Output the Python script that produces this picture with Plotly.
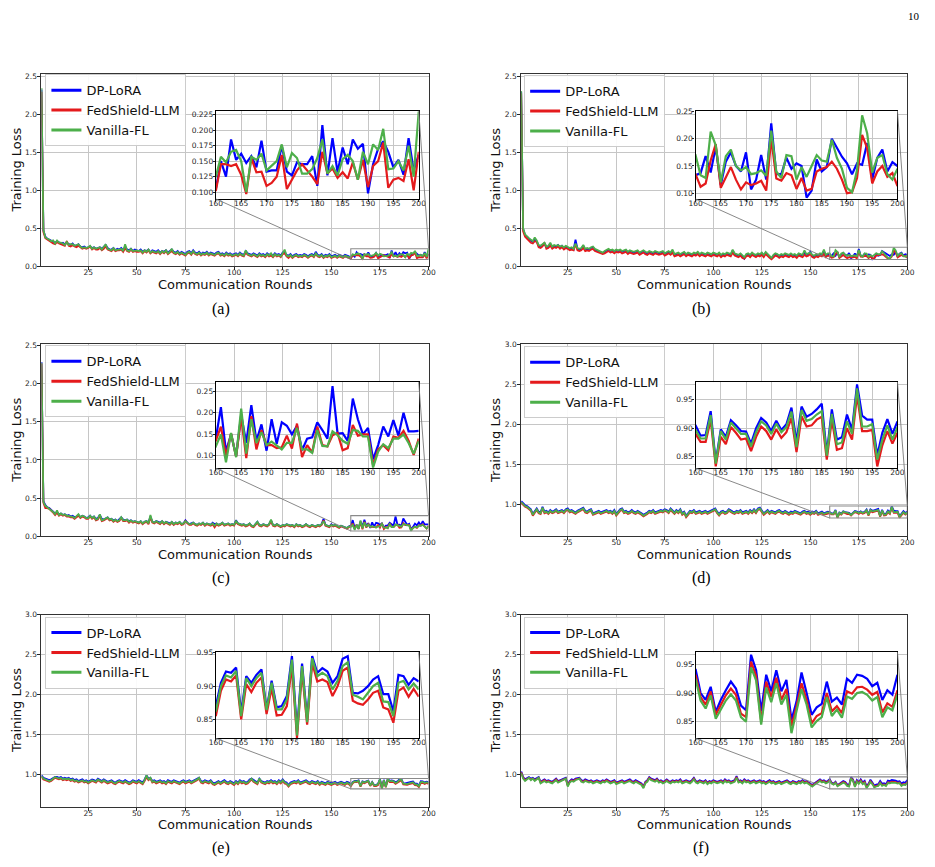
import plotly.graph_objects as go

W, H = 935, 867

SERIES = ["DP-LoRA", "FedShield-LLM", "Vanilla-FL"]
COLORS = ["#0000ff", "#e41a1c", "#4daf4a"]
CAPTIONS = ["(a)", "(b)", "(c)", "(d)", "(e)", "(f)"]
X_TICKS_MAIN = [25, 50, 75, 100, 125, 150, 175, 200]
X_TICKS_INSET = [160, 165, 170, 175, 180, 185, 190, 195, 200]
Y_TICKS_LOW = [0.0, 0.5, 1.0, 1.5, 2.0, 2.5]
Y_TICKS_HIGH = [1.0, 1.5, 2.0, 2.5, 3.0]

# ---------------- panel (a) ----------------
A_DP_EARLY = [2.33,0.47,0.39,0.36,0.35,0.34,0.33,0.31,0.33,0.32,
0.30,0.31,0.29,0.31,0.29,0.28,0.30,0.27,0.27,0.29,
0.26,0.25,0.26,0.24,0.25,0.26,0.24,0.25,0.23,0.24,
0.25,0.23,0.25,0.28,0.24,0.22,0.22,0.24,0.21,0.23,
0.22,0.24,0.21,0.26,0.22,0.21,0.23,0.20,0.22,0.21,
0.20,0.22,0.19,0.21,0.20,0.22,0.18,0.21,0.20,0.19,
0.21,0.18,0.20,0.19,0.21,0.18,0.20,0.22,0.19,0.18,
0.20,0.17,0.19,0.18,0.16,0.19,0.20,0.17,0.21,0.18,
0.17,0.19,0.16,0.18,0.17,0.19,0.16,0.18,0.17,0.16,
0.18,0.19,0.16,0.17,0.15,0.18,0.16,0.17,0.15,0.16,
0.17,0.15,0.18,0.16,0.15,0.20,0.17,0.16,0.15,0.17,
0.16,0.14,0.17,0.15,0.16,0.14,0.17,0.15,0.16,0.14,
0.17,0.15,0.16,0.14,0.18,0.19,0.15,0.14,0.16,0.13,
0.15,0.16,0.14,0.15,0.14,0.16,0.15,0.13,0.15,0.16,
0.14,0.19,0.15,0.14,0.16,0.13,0.15,0.14,0.16,0.13,
0.14,0.15,0.13,0.15,0.14,0.13,0.15,0.14,0.13]
A_FS_EARLY = [2.30,0.45,0.37,0.35,0.33,0.32,0.30,0.29,0.32,0.30,
0.29,0.28,0.27,0.33,0.27,0.26,0.28,0.26,0.25,0.27,
0.25,0.23,0.24,0.23,0.24,0.26,0.22,0.24,0.22,0.22,
0.24,0.21,0.23,0.26,0.22,0.21,0.20,0.23,0.20,0.21,
0.21,0.22,0.19,0.24,0.20,0.19,0.22,0.19,0.20,0.19,
0.19,0.20,0.17,0.20,0.18,0.21,0.17,0.19,0.18,0.17,
0.19,0.16,0.19,0.17,0.20,0.16,0.18,0.20,0.17,0.16,
0.18,0.15,0.17,0.16,0.14,0.17,0.18,0.15,0.19,0.16,
0.15,0.17,0.14,0.16,0.15,0.17,0.14,0.16,0.15,0.14,
0.16,0.17,0.14,0.15,0.13,0.16,0.14,0.15,0.13,0.14,
0.15,0.13,0.16,0.14,0.13,0.18,0.15,0.14,0.13,0.15,
0.14,0.12,0.15,0.13,0.14,0.12,0.15,0.13,0.14,0.12,
0.15,0.13,0.14,0.12,0.16,0.17,0.13,0.11,0.14,0.11,
0.13,0.14,0.12,0.13,0.12,0.14,0.13,0.11,0.13,0.14,
0.12,0.16,0.13,0.12,0.14,0.11,0.13,0.12,0.14,0.11,
0.12,0.13,0.11,0.13,0.12,0.11,0.13,0.12,0.11]
A_VF_EARLY = [2.35,0.48,0.38,0.37,0.35,0.33,0.34,0.30,0.34,0.31,
0.31,0.30,0.28,0.32,0.28,0.29,0.29,0.27,0.28,0.29,
0.26,0.24,0.25,0.24,0.25,0.27,0.23,0.25,0.23,0.24,
0.25,0.22,0.26,0.29,0.23,0.22,0.21,0.24,0.21,0.22,
0.22,0.23,0.20,0.29,0.21,0.20,0.23,0.20,0.21,0.21,
0.20,0.21,0.18,0.21,0.19,0.22,0.18,0.20,0.19,0.18,
0.20,0.17,0.20,0.18,0.21,0.17,0.19,0.23,0.18,0.17,
0.19,0.16,0.18,0.17,0.15,0.18,0.19,0.16,0.20,0.17,
0.16,0.18,0.15,0.17,0.16,0.18,0.15,0.17,0.16,0.15,
0.17,0.18,0.15,0.16,0.14,0.17,0.15,0.16,0.14,0.15,
0.16,0.14,0.17,0.15,0.14,0.21,0.16,0.15,0.14,0.16,
0.15,0.13,0.16,0.14,0.15,0.13,0.16,0.14,0.17,0.13,
0.16,0.14,0.15,0.13,0.17,0.22,0.14,0.13,0.15,0.12,
0.14,0.15,0.13,0.14,0.13,0.15,0.14,0.12,0.14,0.15,
0.13,0.17,0.14,0.13,0.15,0.12,0.14,0.13,0.15,0.12,
0.13,0.14,0.12,0.14,0.13,0.12,0.14,0.13,0.12]
A_DP_ZOOM = [0.105,0.150,0.125,0.185,0.152,0.162,0.147,0.158,0.140,0.183,
0.133,0.135,0.135,0.175,0.133,0.127,0.148,0.145,0.145,0.158,
0.110,0.208,0.127,0.187,0.132,0.172,0.145,0.185,0.170,0.178,
0.098,0.145,0.170,0.182,0.165,0.140,0.152,0.128,0.187,0.135,
0.160]
A_FS_ZOOM = [0.102,0.145,0.145,0.142,0.145,0.128,0.097,0.155,0.132,0.133,
0.110,0.115,0.125,0.160,0.105,0.120,0.135,0.145,0.135,0.125,
0.113,0.165,0.130,0.138,0.123,0.132,0.122,0.148,0.120,0.152,
0.108,0.142,0.150,0.180,0.107,0.120,0.123,0.118,0.153,0.103,
0.165]
A_VF_ZOOM = [0.125,0.157,0.148,0.165,0.168,0.150,0.100,0.157,0.152,0.162,
0.135,0.142,0.150,0.177,0.140,0.163,0.155,0.130,0.130,0.137,
0.155,0.185,0.130,0.142,0.127,0.153,0.160,0.150,0.120,0.165,
0.145,0.177,0.168,0.202,0.137,0.138,0.150,0.135,0.175,0.125,
0.230]

# ---------------- panel (b) ----------------
B_DP_EARLY = [2.30,0.49,0.41,0.38,0.36,0.34,0.32,0.35,0.33,0.27,
0.26,0.28,0.30,0.25,0.26,0.29,0.25,0.27,0.26,0.28,
0.25,0.27,0.24,0.26,0.25,0.23,0.24,0.22,0.35,0.23,
0.22,0.23,0.27,0.22,0.23,0.22,0.24,0.25,0.22,0.21,
0.20,0.19,0.17,0.19,0.21,0.22,0.20,0.21,0.19,0.21,
0.20,0.21,0.19,0.20,0.21,0.18,0.20,0.19,0.18,0.19,
0.20,0.17,0.18,0.20,0.18,0.17,0.19,0.18,0.17,0.19,
0.18,0.17,0.18,0.19,0.16,0.18,0.19,0.17,0.20,0.15,
0.16,0.17,0.15,0.16,0.18,0.15,0.17,0.16,0.15,0.17,
0.16,0.18,0.15,0.17,0.16,0.15,0.17,0.16,0.15,0.17,
0.16,0.15,0.17,0.14,0.16,0.15,0.17,0.16,0.15,0.21,
0.16,0.15,0.14,0.16,0.13,0.10,0.15,0.16,0.14,0.17,
0.15,0.14,0.16,0.15,0.17,0.14,0.18,0.15,0.13,0.10,
0.14,0.16,0.15,0.13,0.15,0.14,0.16,0.15,0.14,0.16,
0.14,0.15,0.13,0.16,0.15,0.14,0.18,0.15,0.16,0.19,
0.14,0.13,0.15,0.14,0.16,0.15,0.20,0.14,0.16]
B_FS_EARLY = [2.28,0.46,0.39,0.36,0.34,0.31,0.30,0.33,0.32,0.25,
0.24,0.26,0.31,0.23,0.24,0.27,0.23,0.25,0.24,0.26,
0.23,0.25,0.22,0.24,0.23,0.21,0.22,0.21,0.29,0.21,
0.20,0.21,0.24,0.20,0.21,0.20,0.22,0.23,0.20,0.19,
0.18,0.17,0.16,0.17,0.19,0.20,0.18,0.19,0.17,0.19,
0.18,0.19,0.17,0.18,0.19,0.16,0.18,0.17,0.16,0.17,
0.18,0.15,0.16,0.18,0.16,0.15,0.17,0.16,0.15,0.17,
0.16,0.15,0.16,0.17,0.14,0.16,0.17,0.15,0.18,0.13,
0.14,0.15,0.13,0.14,0.16,0.13,0.15,0.14,0.13,0.15,
0.14,0.16,0.13,0.15,0.14,0.13,0.15,0.14,0.13,0.15,
0.14,0.13,0.15,0.12,0.14,0.13,0.15,0.14,0.13,0.18,
0.14,0.13,0.12,0.14,0.11,0.10,0.13,0.14,0.12,0.15,
0.13,0.12,0.14,0.13,0.15,0.12,0.16,0.13,0.11,0.09,
0.12,0.14,0.13,0.11,0.13,0.12,0.14,0.13,0.12,0.14,
0.12,0.13,0.11,0.14,0.13,0.12,0.15,0.13,0.14,0.16,
0.12,0.11,0.13,0.12,0.14,0.13,0.16,0.12,0.14]
B_VF_EARLY = [2.31,0.50,0.42,0.39,0.37,0.35,0.33,0.38,0.34,0.28,
0.27,0.29,0.31,0.26,0.27,0.31,0.26,0.28,0.27,0.28,
0.26,0.27,0.25,0.27,0.25,0.24,0.25,0.23,0.30,0.24,
0.23,0.24,0.28,0.23,0.24,0.23,0.25,0.26,0.23,0.22,
0.21,0.20,0.18,0.20,0.22,0.23,0.21,0.22,0.20,0.22,
0.21,0.22,0.20,0.21,0.22,0.19,0.21,0.20,0.19,0.20,
0.21,0.18,0.19,0.21,0.19,0.18,0.20,0.19,0.18,0.20,
0.19,0.18,0.19,0.20,0.17,0.19,0.20,0.18,0.22,0.16,
0.17,0.18,0.16,0.17,0.19,0.16,0.18,0.17,0.16,0.18,
0.17,0.19,0.16,0.18,0.17,0.16,0.18,0.17,0.16,0.18,
0.17,0.16,0.18,0.15,0.17,0.16,0.18,0.17,0.16,0.22,
0.17,0.16,0.15,0.17,0.14,0.12,0.16,0.17,0.15,0.18,
0.16,0.15,0.17,0.16,0.18,0.15,0.19,0.16,0.14,0.11,
0.15,0.17,0.16,0.14,0.16,0.15,0.17,0.16,0.15,0.17,
0.15,0.16,0.14,0.17,0.16,0.15,0.21,0.16,0.17,0.18,
0.15,0.14,0.16,0.15,0.17,0.16,0.22,0.15,0.17]
B_DP_ZOOM = [0.133,0.137,0.168,0.138,0.185,0.115,0.158,0.175,0.150,0.140,
0.175,0.107,0.125,0.170,0.125,0.228,0.135,0.135,0.165,0.145,
0.155,0.150,0.092,0.105,0.162,0.140,0.148,0.200,0.183,0.167,
0.155,0.135,0.155,0.152,0.192,0.125,0.165,0.180,0.140,0.157,
0.150]
B_FS_ZOOM = [0.135,0.112,0.118,0.160,0.190,0.110,0.130,0.148,0.125,0.107,
0.120,0.115,0.118,0.123,0.105,0.200,0.127,0.123,0.137,0.133,
0.108,0.128,0.105,0.108,0.140,0.145,0.148,0.158,0.145,0.125,
0.100,0.102,0.128,0.207,0.183,0.118,0.140,0.150,0.130,0.137,
0.113]
B_VF_ZOOM = [0.170,0.133,0.128,0.213,0.188,0.120,0.168,0.180,0.150,0.142,
0.148,0.135,0.137,0.142,0.132,0.215,0.140,0.128,0.170,0.168,
0.125,0.148,0.130,0.150,0.170,0.160,0.158,0.198,0.165,0.145,
0.110,0.102,0.143,0.243,0.210,0.138,0.165,0.170,0.135,0.125,
0.145]

# ---------------- panel (c) ----------------
C_DP_EARLY = [2.28,0.46,0.41,0.38,0.37,0.35,0.33,0.30,0.32,0.29,
0.30,0.28,0.29,0.27,0.28,0.26,0.27,0.25,0.26,0.28,
0.25,0.27,0.26,0.24,0.25,0.27,0.24,0.26,0.23,0.24,
0.28,0.23,0.22,0.24,0.25,0.22,0.23,0.21,0.22,0.20,
0.22,0.25,0.22,0.21,0.22,0.20,0.21,0.19,0.20,0.19,
0.18,0.20,0.17,0.19,0.20,0.18,0.26,0.19,0.18,0.20,
0.19,0.18,0.20,0.17,0.19,0.18,0.17,0.19,0.16,0.18,
0.17,0.19,0.16,0.17,0.21,0.18,0.16,0.17,0.18,0.16,
0.15,0.17,0.16,0.18,0.15,0.17,0.16,0.15,0.18,0.16,
0.17,0.15,0.16,0.18,0.15,0.16,0.17,0.15,0.16,0.15,
0.21,0.17,0.16,0.15,0.16,0.14,0.15,0.17,0.14,0.13,
0.16,0.19,0.15,0.14,0.16,0.15,0.14,0.16,0.21,0.15,
0.14,0.16,0.15,0.13,0.15,0.14,0.16,0.15,0.14,0.15,
0.13,0.16,0.14,0.15,0.13,0.14,0.16,0.14,0.13,0.15,
0.14,0.13,0.15,0.14,0.16,0.23,0.15,0.14,0.13,0.16,
0.14,0.15,0.13,0.12,0.14,0.13,0.12,0.11,0.13]
C_FS_EARLY = [2.26,0.44,0.37,0.37,0.36,0.34,0.31,0.28,0.31,0.27,
0.29,0.27,0.28,0.26,0.26,0.25,0.25,0.23,0.25,0.27,
0.24,0.26,0.25,0.23,0.23,0.26,0.23,0.25,0.21,0.22,
0.27,0.20,0.21,0.23,0.24,0.21,0.22,0.19,0.21,0.19,
0.20,0.24,0.20,0.20,0.21,0.18,0.20,0.18,0.19,0.18,
0.17,0.19,0.16,0.18,0.19,0.16,0.25,0.18,0.17,0.19,
0.18,0.16,0.19,0.16,0.18,0.17,0.15,0.18,0.15,0.17,
0.16,0.18,0.15,0.16,0.20,0.17,0.15,0.15,0.17,0.15,
0.14,0.16,0.15,0.17,0.14,0.16,0.15,0.14,0.16,0.12,
0.16,0.14,0.15,0.17,0.14,0.15,0.16,0.14,0.15,0.14,
0.19,0.16,0.15,0.14,0.15,0.13,0.14,0.16,0.13,0.12,
0.15,0.18,0.14,0.13,0.15,0.14,0.13,0.15,0.20,0.14,
0.13,0.15,0.14,0.12,0.14,0.13,0.15,0.14,0.13,0.14,
0.12,0.15,0.13,0.14,0.12,0.13,0.15,0.13,0.12,0.14,
0.13,0.12,0.14,0.13,0.15,0.21,0.14,0.13,0.12,0.15,
0.13,0.14,0.12,0.11,0.13,0.12,0.11,0.10,0.12]
C_VF_EARLY = [2.27,0.45,0.40,0.38,0.37,0.35,0.32,0.29,0.34,0.28,
0.30,0.28,0.29,0.27,0.27,0.26,0.26,0.24,0.26,0.29,
0.25,0.27,0.26,0.24,0.24,0.27,0.24,0.26,0.22,0.23,
0.29,0.21,0.22,0.24,0.25,0.22,0.23,0.20,0.22,0.20,
0.21,0.25,0.21,0.21,0.22,0.19,0.21,0.19,0.20,0.19,
0.18,0.20,0.17,0.19,0.20,0.17,0.28,0.19,0.18,0.20,
0.19,0.17,0.20,0.17,0.19,0.18,0.16,0.19,0.16,0.18,
0.17,0.19,0.16,0.17,0.20,0.18,0.16,0.16,0.18,0.16,
0.15,0.17,0.16,0.18,0.15,0.17,0.16,0.15,0.17,0.14,
0.17,0.15,0.16,0.18,0.15,0.16,0.17,0.15,0.16,0.15,
0.20,0.17,0.16,0.15,0.16,0.14,0.15,0.17,0.14,0.13,
0.16,0.19,0.15,0.14,0.16,0.15,0.14,0.16,0.22,0.15,
0.14,0.16,0.15,0.13,0.15,0.14,0.16,0.15,0.14,0.15,
0.13,0.16,0.14,0.15,0.13,0.14,0.16,0.14,0.13,0.15,
0.14,0.13,0.15,0.14,0.16,0.20,0.15,0.14,0.13,0.15,
0.14,0.15,0.13,0.12,0.14,0.13,0.12,0.11,0.13]
C_DP_ZOOM = [0.140,0.213,0.110,0.150,0.100,0.195,0.130,0.218,0.135,0.173,
0.112,0.185,0.128,0.178,0.170,0.150,0.170,0.113,0.140,0.143,
0.178,0.160,0.140,0.262,0.152,0.153,0.135,0.233,0.185,0.150,
0.165,0.092,0.125,0.168,0.145,0.183,0.147,0.200,0.157,0.157,
0.158]
C_FS_ZOOM = [0.135,0.168,0.100,0.152,0.098,0.190,0.095,0.192,0.115,0.160,
0.125,0.125,0.118,0.120,0.147,0.117,0.175,0.097,0.125,0.108,
0.168,0.125,0.122,0.148,0.153,0.113,0.118,0.172,0.147,0.150,
0.150,0.078,0.115,0.125,0.113,0.145,0.142,0.158,0.135,0.102,
0.140]
C_VF_ZOOM = [0.122,0.150,0.085,0.153,0.097,0.210,0.105,0.185,0.130,0.155,
0.125,0.133,0.125,0.115,0.130,0.130,0.165,0.115,0.115,0.107,
0.160,0.123,0.122,0.157,0.148,0.135,0.128,0.160,0.158,0.145,
0.145,0.073,0.110,0.127,0.118,0.140,0.140,0.150,0.130,0.105,
0.135]

# ---------------- panel (d) ----------------
D_DP_EARLY = [1.04,1.01,0.99,0.98,0.96,0.94,0.88,0.92,0.95,0.91,
0.90,0.97,0.91,0.92,0.90,0.93,0.91,0.92,0.94,0.91,
0.92,0.93,0.91,0.94,0.95,0.92,0.93,0.91,0.90,0.92,
0.93,0.94,0.96,0.92,0.91,0.93,0.94,0.89,0.90,0.91,
0.92,0.90,0.91,0.92,0.93,0.91,0.92,0.90,0.93,0.88,
0.91,0.94,0.95,0.91,0.92,0.90,0.91,0.93,0.91,0.90,
0.92,0.91,0.89,0.87,0.88,0.90,0.92,0.91,0.93,0.90,
0.91,0.92,0.93,0.92,0.94,0.93,0.91,0.95,0.92,0.90,
0.93,0.91,0.94,0.89,0.91,0.86,0.89,0.92,0.91,0.93,
0.90,0.91,0.92,0.90,0.91,0.92,0.90,0.91,0.92,0.94,
0.95,0.91,0.88,0.91,0.92,0.90,0.91,0.94,0.92,0.91,
0.90,0.92,0.91,0.93,0.90,0.91,0.92,0.90,0.93,0.91,
0.94,0.91,0.95,0.96,0.92,0.89,0.91,0.93,0.90,0.92,
0.91,0.90,0.92,0.93,0.91,0.90,0.92,0.91,0.89,0.91,
0.90,0.92,0.91,0.90,0.89,0.91,0.92,0.90,0.91,0.89,
0.91,0.90,0.92,0.89,0.90,0.91,0.89,0.90,0.91]
D_FS_EARLY = [1.02,0.99,0.97,0.96,0.94,0.92,0.86,0.90,0.93,0.89,
0.88,0.95,0.89,0.90,0.88,0.91,0.89,0.90,0.92,0.89,
0.90,0.91,0.89,0.92,0.93,0.90,0.91,0.89,0.88,0.90,
0.91,0.92,0.94,0.90,0.89,0.91,0.92,0.87,0.88,0.89,
0.90,0.88,0.89,0.90,0.91,0.89,0.90,0.88,0.91,0.86,
0.89,0.92,0.93,0.89,0.90,0.88,0.89,0.91,0.89,0.88,
0.90,0.89,0.87,0.85,0.86,0.88,0.90,0.89,0.91,0.88,
0.89,0.90,0.91,0.90,0.92,0.91,0.89,0.93,0.90,0.88,
0.91,0.89,0.92,0.87,0.89,0.84,0.87,0.90,0.89,0.91,
0.88,0.89,0.90,0.88,0.89,0.90,0.88,0.89,0.90,0.92,
0.93,0.89,0.86,0.89,0.90,0.88,0.89,0.92,0.90,0.89,
0.88,0.90,0.89,0.91,0.88,0.89,0.90,0.88,0.91,0.89,
0.92,0.89,0.93,0.94,0.90,0.87,0.89,0.91,0.88,0.90,
0.89,0.88,0.90,0.91,0.89,0.88,0.90,0.89,0.87,0.89,
0.88,0.90,0.89,0.88,0.87,0.89,0.90,0.88,0.89,0.87,
0.89,0.88,0.90,0.87,0.88,0.89,0.87,0.88,0.89]
D_VF_EARLY = [1.03,1.00,0.98,0.97,0.95,0.93,0.87,0.91,0.94,0.90,
0.89,0.96,0.90,0.91,0.89,0.92,0.90,0.91,0.93,0.90,
0.91,0.92,0.90,0.93,0.94,0.91,0.92,0.90,0.89,0.91,
0.92,0.93,0.95,0.91,0.90,0.92,0.93,0.88,0.89,0.90,
0.91,0.89,0.90,0.91,0.92,0.90,0.91,0.89,0.92,0.87,
0.90,0.93,0.94,0.90,0.91,0.89,0.90,0.92,0.90,0.89,
0.91,0.90,0.88,0.86,0.87,0.89,0.91,0.90,0.92,0.89,
0.90,0.91,0.92,0.91,0.93,0.92,0.90,0.94,0.91,0.89,
0.92,0.90,0.93,0.88,0.90,0.85,0.88,0.91,0.90,0.92,
0.89,0.90,0.91,0.89,0.90,0.91,0.89,0.90,0.91,0.93,
0.94,0.90,0.87,0.90,0.91,0.89,0.90,0.93,0.91,0.90,
0.89,0.91,0.90,0.92,0.89,0.90,0.91,0.89,0.92,0.90,
0.93,0.90,0.94,0.95,0.91,0.88,0.90,0.92,0.89,0.91,
0.90,0.89,0.91,0.92,0.90,0.89,0.91,0.90,0.88,0.90,
0.89,0.91,0.90,0.89,0.88,0.90,0.91,0.89,0.90,0.88,
0.90,0.89,0.91,0.88,0.89,0.90,0.88,0.89,0.90]
D_DP_ZOOM = [0.905,0.887,0.888,0.930,0.840,0.898,0.885,0.914,0.905,0.895,
0.894,0.873,0.900,0.918,0.910,0.895,0.913,0.897,0.907,0.936,
0.876,0.938,0.920,0.925,0.933,0.943,0.855,0.933,0.880,0.884,
0.924,0.897,0.977,0.922,0.915,0.915,0.852,0.892,0.916,0.890,
0.912]
D_FS_ZOOM = [0.890,0.876,0.876,0.915,0.833,0.885,0.872,0.902,0.892,0.880,
0.882,0.860,0.885,0.903,0.895,0.880,0.898,0.883,0.893,0.918,
0.858,0.921,0.903,0.905,0.915,0.920,0.845,0.915,0.862,0.865,
0.900,0.880,0.958,0.895,0.895,0.897,0.833,0.870,0.895,0.873,
0.892]
D_VF_ZOOM = [0.897,0.882,0.882,0.923,0.838,0.895,0.880,0.910,0.900,0.890,
0.890,0.868,0.893,0.912,0.905,0.890,0.908,0.893,0.902,0.929,
0.867,0.932,0.913,0.916,0.924,0.930,0.852,0.925,0.872,0.875,
0.912,0.890,0.970,0.903,0.903,0.907,0.845,0.880,0.905,0.880,
0.902]

# ---------------- panel (e) ----------------
E_DP_EARLY = [0.99,0.96,0.95,0.94,0.93,0.94,0.96,0.97,0.97,0.96,
0.97,0.95,0.96,0.95,0.96,0.94,0.95,0.93,0.94,0.92,
0.93,0.94,0.92,0.93,0.91,0.93,0.94,0.93,0.92,0.95,
0.93,0.92,0.94,0.93,0.91,0.92,0.93,0.91,0.90,0.92,
0.93,0.92,0.91,0.93,0.92,0.90,0.91,0.93,0.92,0.91,
0.93,0.91,0.90,0.94,0.99,0.95,0.96,0.92,0.93,0.91,
0.92,0.93,0.91,0.92,0.90,0.93,0.92,0.91,0.93,0.92,
0.91,0.90,0.92,0.93,0.91,0.92,0.93,0.91,0.92,0.94,
0.95,0.96,0.92,0.91,0.93,0.92,0.91,0.93,0.90,0.89,
0.91,0.92,0.90,0.91,0.93,0.91,0.90,0.92,0.91,0.89,
0.92,0.90,0.93,0.91,0.92,0.90,0.91,0.94,0.95,0.93,
0.92,0.90,0.95,0.92,0.91,0.90,0.92,0.91,0.93,0.91,
0.92,0.90,0.93,0.91,0.94,0.91,0.90,0.87,0.90,0.91,
0.92,0.91,0.93,0.90,0.91,0.92,0.93,0.91,0.90,0.92,
0.91,0.90,0.92,0.89,0.91,0.90,0.89,0.91,0.90,0.89,
0.90,0.91,0.89,0.90,0.91,0.90,0.89,0.91,0.90]
E_FS_EARLY = [0.97,0.94,0.93,0.92,0.91,0.92,0.94,0.96,0.95,0.94,
0.95,0.93,0.94,0.93,0.94,0.92,0.93,0.91,0.92,0.90,
0.91,0.92,0.90,0.91,0.89,0.91,0.92,0.91,0.90,0.93,
0.91,0.90,0.92,0.91,0.89,0.90,0.91,0.89,0.88,0.90,
0.91,0.90,0.89,0.91,0.90,0.88,0.89,0.91,0.90,0.89,
0.91,0.89,0.88,0.92,0.97,0.93,0.95,0.90,0.91,0.89,
0.90,0.91,0.89,0.90,0.88,0.91,0.90,0.89,0.91,0.90,
0.89,0.88,0.90,0.91,0.89,0.90,0.91,0.89,0.90,0.92,
0.93,0.95,0.90,0.89,0.91,0.90,0.89,0.91,0.88,0.87,
0.89,0.90,0.88,0.89,0.91,0.89,0.88,0.90,0.89,0.87,
0.90,0.88,0.91,0.89,0.90,0.88,0.89,0.92,0.94,0.91,
0.90,0.88,0.94,0.90,0.89,0.88,0.90,0.89,0.91,0.89,
0.90,0.88,0.91,0.89,0.92,0.89,0.88,0.85,0.88,0.89,
0.90,0.89,0.91,0.88,0.89,0.90,0.91,0.89,0.88,0.90,
0.89,0.88,0.90,0.87,0.89,0.88,0.87,0.89,0.88,0.87,
0.88,0.89,0.87,0.88,0.89,0.88,0.87,0.89,0.88]
E_VF_EARLY = [0.98,0.95,0.94,0.93,0.92,0.93,0.95,0.97,0.96,0.95,
0.96,0.94,0.95,0.94,0.95,0.93,0.94,0.92,0.93,0.91,
0.92,0.93,0.91,0.92,0.90,0.92,0.93,0.92,0.91,0.94,
0.92,0.91,0.93,0.92,0.90,0.91,0.92,0.90,0.89,0.91,
0.92,0.91,0.90,0.92,0.91,0.89,0.90,0.92,0.91,0.90,
0.92,0.90,0.89,0.93,0.99,0.94,0.96,0.91,0.92,0.90,
0.91,0.92,0.90,0.91,0.89,0.92,0.91,0.90,0.92,0.91,
0.90,0.89,0.91,0.92,0.90,0.91,0.92,0.90,0.91,0.93,
0.94,0.96,0.91,0.90,0.92,0.91,0.90,0.92,0.89,0.88,
0.90,0.91,0.89,0.90,0.92,0.90,0.89,0.91,0.90,0.88,
0.91,0.89,0.92,0.90,0.91,0.89,0.90,0.93,0.95,0.92,
0.91,0.89,0.95,0.91,0.90,0.89,0.91,0.90,0.92,0.90,
0.91,0.89,0.92,0.90,0.93,0.90,0.89,0.86,0.89,0.90,
0.91,0.90,0.92,0.89,0.90,0.91,0.92,0.90,0.89,0.91,
0.90,0.89,0.91,0.88,0.90,0.89,0.88,0.90,0.89,0.88,
0.89,0.90,0.88,0.89,0.90,0.89,0.88,0.90,0.89]
E_DP_ZOOM = [0.870,0.905,0.922,0.920,0.928,0.860,0.915,0.905,0.917,0.925,
0.865,0.908,0.868,0.870,0.885,0.945,0.832,0.934,0.850,0.945,
0.920,0.927,0.922,0.905,0.915,0.941,0.945,0.890,0.889,0.893,
0.900,0.910,0.915,0.888,0.888,0.862,0.917,0.915,0.902,0.912,
0.907]
E_FS_ZOOM = [0.855,0.893,0.910,0.907,0.916,0.850,0.903,0.891,0.905,0.913,
0.858,0.897,0.856,0.857,0.870,0.930,0.822,0.923,0.842,0.935,
0.907,0.910,0.906,0.885,0.900,0.923,0.928,0.878,0.874,0.872,
0.880,0.890,0.893,0.868,0.865,0.845,0.893,0.898,0.884,0.896,
0.884]
E_VF_ZOOM = [0.862,0.900,0.916,0.913,0.923,0.855,0.912,0.900,0.912,0.920,
0.864,0.905,0.865,0.865,0.880,0.940,0.826,0.930,0.846,0.942,
0.915,0.920,0.915,0.895,0.908,0.930,0.936,0.887,0.884,0.880,
0.890,0.900,0.905,0.877,0.876,0.855,0.905,0.908,0.895,0.904,
0.895]

# ---------------- panel (f) ----------------
F_DP_EARLY = [1.04,0.97,0.94,0.96,0.97,0.95,0.96,0.94,0.96,0.97,
0.91,0.93,0.94,0.92,0.93,0.92,0.91,0.93,0.95,0.92,
0.93,0.94,0.95,0.96,0.87,0.92,0.94,0.93,0.95,0.96,
0.96,0.93,0.92,0.94,0.93,0.92,0.93,0.91,0.92,0.93,
0.92,0.91,0.93,0.92,0.94,0.93,0.91,0.92,0.93,0.90,
0.91,0.92,0.93,0.91,0.92,0.93,0.94,0.92,0.91,0.93,
0.92,0.90,0.89,0.85,0.91,0.93,0.97,0.95,0.94,0.93,
0.95,0.92,0.93,0.91,0.92,0.94,0.92,0.91,0.93,0.92,
0.93,0.92,0.94,0.91,0.92,0.93,0.92,0.91,0.93,0.96,
0.92,0.91,0.93,0.92,0.91,0.93,0.90,0.92,0.91,0.93,
0.92,0.91,0.92,0.93,0.91,0.94,0.92,0.93,0.91,0.92,
0.93,0.98,0.92,0.93,0.91,0.94,0.92,0.93,0.91,0.92,
0.93,0.91,0.92,0.93,0.91,0.92,0.90,0.91,0.93,0.91,
0.92,0.90,0.91,0.92,0.90,0.91,0.92,0.93,0.91,0.90,
0.92,0.91,0.90,0.92,0.91,0.93,0.91,0.92,0.90,0.89,
0.87,0.89,0.91,0.92,0.94,0.92,0.93,0.91,0.92]
F_FS_EARLY = [1.03,0.96,0.93,0.95,0.96,0.94,0.95,0.93,0.95,0.96,
0.90,0.92,0.93,0.91,0.92,0.91,0.90,0.92,0.94,0.91,
0.92,0.93,0.94,0.95,0.86,0.91,0.93,0.92,0.94,0.95,
0.95,0.92,0.91,0.93,0.92,0.91,0.92,0.90,0.91,0.92,
0.91,0.90,0.92,0.91,0.93,0.92,0.90,0.91,0.92,0.89,
0.90,0.91,0.92,0.90,0.91,0.92,0.93,0.91,0.90,0.92,
0.91,0.89,0.88,0.84,0.90,0.92,0.96,0.94,0.93,0.92,
0.94,0.91,0.92,0.90,0.91,0.93,0.91,0.90,0.92,0.91,
0.92,0.91,0.93,0.90,0.91,0.92,0.91,0.90,0.92,0.95,
0.91,0.90,0.92,0.91,0.90,0.92,0.89,0.91,0.90,0.92,
0.91,0.90,0.91,0.92,0.90,0.93,0.91,0.92,0.90,0.91,
0.92,0.97,0.91,0.92,0.90,0.93,0.91,0.92,0.90,0.91,
0.92,0.90,0.91,0.92,0.90,0.91,0.89,0.90,0.92,0.90,
0.91,0.89,0.90,0.91,0.89,0.90,0.91,0.92,0.90,0.89,
0.91,0.90,0.89,0.91,0.90,0.92,0.90,0.91,0.89,0.88,
0.86,0.88,0.90,0.91,0.93,0.91,0.92,0.90,0.91]
F_VF_EARLY = [1.02,0.95,0.92,0.94,0.96,0.93,0.95,0.92,0.94,0.96,
0.89,0.91,0.92,0.90,0.91,0.90,0.89,0.91,0.93,0.90,
0.91,0.92,0.93,0.95,0.85,0.90,0.92,0.91,0.93,0.94,
0.95,0.91,0.90,0.92,0.91,0.90,0.91,0.89,0.90,0.91,
0.90,0.89,0.91,0.90,0.92,0.91,0.89,0.90,0.91,0.88,
0.89,0.90,0.91,0.89,0.90,0.91,0.92,0.90,0.89,0.91,
0.90,0.88,0.87,0.83,0.89,0.91,0.95,0.93,0.92,0.91,
0.93,0.90,0.91,0.89,0.90,0.92,0.90,0.89,0.91,0.90,
0.91,0.90,0.92,0.89,0.90,0.91,0.90,0.89,0.91,0.94,
0.90,0.89,0.91,0.90,0.89,0.91,0.88,0.90,0.89,0.91,
0.90,0.89,0.90,0.91,0.89,0.92,0.90,0.91,0.89,0.90,
0.91,0.96,0.90,0.91,0.89,0.92,0.90,0.91,0.89,0.90,
0.91,0.89,0.90,0.91,0.89,0.90,0.88,0.89,0.91,0.89,
0.90,0.88,0.89,0.90,0.88,0.89,0.90,0.91,0.89,0.88,
0.90,0.89,0.88,0.90,0.89,0.91,0.89,0.90,0.88,0.87,
0.85,0.87,0.89,0.90,0.92,0.90,0.91,0.89,0.90]
F_DP_ZOOM = [0.942,0.900,0.888,0.911,0.867,0.888,0.905,0.920,0.908,0.878,
0.870,0.967,0.940,0.868,0.932,0.903,0.940,0.903,0.923,0.853,
0.885,0.936,0.900,0.862,0.875,0.881,0.920,0.885,0.892,0.880,
0.925,0.918,0.932,0.930,0.925,0.912,0.918,0.888,0.905,0.897,
0.932]
F_FS_ZOOM = [0.932,0.893,0.880,0.903,0.862,0.880,0.896,0.908,0.897,0.864,
0.858,0.955,0.930,0.850,0.920,0.893,0.927,0.888,0.907,0.842,
0.876,0.917,0.888,0.847,0.860,0.865,0.900,0.868,0.877,0.865,
0.903,0.899,0.910,0.911,0.906,0.897,0.902,0.866,0.882,0.876,
0.905]
F_VF_ZOOM = [0.925,0.887,0.873,0.896,0.855,0.872,0.887,0.898,0.887,0.858,
0.850,0.945,0.922,0.845,0.910,0.884,0.917,0.880,0.897,0.830,
0.867,0.907,0.880,0.840,0.851,0.858,0.893,0.860,0.871,0.857,
0.894,0.890,0.900,0.902,0.897,0.887,0.893,0.858,0.875,0.870,
0.898]

PANEL_DATA = [
    [(A_DP_EARLY, A_DP_ZOOM), (A_FS_EARLY, A_FS_ZOOM), (A_VF_EARLY, A_VF_ZOOM)],
    [(B_DP_EARLY, B_DP_ZOOM), (B_FS_EARLY, B_FS_ZOOM), (B_VF_EARLY, B_VF_ZOOM)],
    [(C_DP_EARLY, C_DP_ZOOM), (C_FS_EARLY, C_FS_ZOOM), (C_VF_EARLY, C_VF_ZOOM)],
    [(D_DP_EARLY, D_DP_ZOOM), (D_FS_EARLY, D_FS_ZOOM), (D_VF_EARLY, D_VF_ZOOM)],
    [(E_DP_EARLY, E_DP_ZOOM), (E_FS_EARLY, E_FS_ZOOM), (E_VF_EARLY, E_VF_ZOOM)],
    [(F_DP_EARLY, F_DP_ZOOM), (F_FS_EARLY, F_FS_ZOOM), (F_VF_EARLY, F_VF_ZOOM)],
]

MAIN_YRANGE = [(0, 2.53), (0, 2.53), (0, 2.51), (0.6, 3.0), (0.6, 3.0), (0.6, 3.0)]
MAIN_YTICKS = [Y_TICKS_LOW, Y_TICKS_LOW, Y_TICKS_LOW, Y_TICKS_HIGH, Y_TICKS_HIGH, Y_TICKS_HIGH]
INSET_YRANGE = [(0.089, 0.231), (0.0896, 0.251), (0.0715, 0.2715),
                (0.830, 0.981), (0.8216, 0.951), (0.821, 0.9714)]
INSET_YTICKS = [[0.100, 0.125, 0.150, 0.175, 0.200, 0.225],
                [0.10, 0.15, 0.20, 0.25],
                [0.10, 0.15, 0.20, 0.25],
                [0.85, 0.90, 0.95],
                [0.85, 0.90, 0.95],
                [0.85, 0.90, 0.95]]
INSET_FMT = [".3f", ".2f", ".2f", ".2f", ".2f", ".2f"]
ZOOM_X = (160, 200)
MAIN_X = (1, 200)

# ---------------- layout geometry (pixels) ----------------
COL_X = [(35, 428), (522, 914)]
ROW_Y = [(71, 265), (344, 538), (617, 811)]
INSET_X = [(212, 418), (699, 904)]
INSET_Y = [(108, 197), (382, 469), (655, 742)]
LEGEND_XY = [(39, 71), (525, 72), (39, 345), (525, 346), (39, 619), (525, 619)]
CAPTION_X = [217, 705]
CAPTION_Y = [308, 580, 853]
XLABEL_Y = [283, 556, 829]
YLABEL_X = [9.5, 496]

FONT = "DejaVu Sans"
TICKC = "#262626"
GRIDC = "#c6c6c6"


def dx(l, r):
    return [l / W, r / W]


def dy(t, b):
    return [1 - b / H, 1 - t / H]


fig = go.Figure()
layout = {}
shapes = []
annotations = []

for i in range(6):
    col, row = i % 2, i // 2
    mi, ii = i + 1, i + 7
    mx = "x" if mi == 1 else f"x{mi}"
    my = "y" if mi == 1 else f"y{mi}"
    ix, iy = f"x{ii}", f"y{ii}"
    leg = "legend" if i == 0 else f"legend{i + 1}"

    L, R = COL_X[col]
    T, B = ROW_Y[row]
    IL, IR = INSET_X[col]
    IT, IB = INSET_Y[row]

    for k, (early, zoom) in enumerate(PANEL_DATA[i]):
        xs = list(range(1, len(early) + 1)) + list(range(ZOOM_X[0], ZOOM_X[0] + len(zoom)))
        ys = early + zoom
        fig.add_trace(go.Scatter(x=xs, y=ys, mode="lines", name=SERIES[k],
                                 line=dict(color=COLORS[k], width=1.8),
                                 xaxis=mx, yaxis=my, showlegend=False,
                                 hoverinfo="skip"))
        fig.add_trace(go.Scatter(x=xs, y=ys, mode="lines", name=SERIES[k],
                                 line=dict(color=COLORS[k], width=2.2),
                                 xaxis=ix, yaxis=iy, showlegend=False,
                                 hoverinfo="skip"))
        # legend entry (thicker sample line as in the original)
        fig.add_trace(go.Scatter(x=[None], y=[None], mode="lines", name=SERIES[k],
                                 line=dict(color=COLORS[k], width=3),
                                 xaxis=mx, yaxis=my, legend=leg, showlegend=True))

    base = dict(showline=True, mirror=True, ticks="outside", ticklen=3, tickwidth=1,
                tickcolor=TICKC, showgrid=True, gridcolor=GRIDC, gridwidth=1.4,
                zeroline=False, tickfont=dict(family=FONT, size=7.5, color=TICKC))

    layout["xaxis" if mi == 1 else f"xaxis{mi}"] = dict(
        base, domain=dx(L, R), anchor=my, range=list(MAIN_X),
        tickvals=X_TICKS_MAIN, linecolor="#333333", linewidth=1, ticklabelstandoff=-4)
    layout["yaxis" if mi == 1 else f"yaxis{mi}"] = dict(
        base, domain=dy(T, B), anchor=mx, range=list(MAIN_YRANGE[i]),
        tickvals=MAIN_YTICKS[i], tickformat=".1f", linecolor="#333333", linewidth=1,
        ticklabelstandoff=-1)
    layout[f"xaxis{ii}"] = dict(
        base, domain=dx(IL, IR), anchor=iy, range=list(ZOOM_X), ticklen=2,
        tickvals=X_TICKS_INSET, linecolor="#000000", linewidth=1.3, ticklabelstandoff=-5)
    layout[f"yaxis{ii}"] = dict(
        base, domain=dy(IT, IB), anchor=ix, range=list(INSET_YRANGE[i]), ticklen=2,
        tickvals=INSET_YTICKS[i], tickformat=INSET_FMT[i], linecolor="#000000",
        linewidth=1.3, ticklabelstandoff=-2)

    lx, ly = LEGEND_XY[i]
    layout[leg] = dict(x=lx / W, y=1 - ly / H, xanchor="left", yanchor="top",
                       bgcolor="rgba(255,255,255,0.9)", bordercolor="#cccccc",
                       borderwidth=1, font=dict(family=FONT, size=13, color="#111111"),
                       tracegroupgap=0, itemwidth=30)

    # zoom rectangle on the main axes
    y0, y1 = INSET_YRANGE[i]
    shapes.append(dict(type="rect", xref=mx, yref=my, x0=ZOOM_X[0], x1=ZOOM_X[1],
                       y0=y0, y1=y1, line=dict(color="#8a8a8a", width=1.1)))

    # connector lines (inset corner -> rectangle corner)
    ylo, yhi = MAIN_YRANGE[i]

    def to_px(xv, yv):
        px = L + (xv - MAIN_X[0]) / (MAIN_X[1] - MAIN_X[0]) * (R - L)
        py = B - (yv - ylo) / (yhi - ylo) * (B - T)
        return px / W, 1 - py / H

    rx0, ry0 = to_px(ZOOM_X[0], y0)
    rx1, ry1 = to_px(ZOOM_X[1], y1)
    shapes.append(dict(type="line", xref="paper", yref="paper",
                       x0=IL / W, y0=1 - IB / H, x1=rx0, y1=ry0,
                       line=dict(color="#7a7a7a", width=0.9)))
    shapes.append(dict(type="line", xref="paper", yref="paper",
                       x0=IR / W, y0=1 - IT / H, x1=rx1, y1=ry1,
                       line=dict(color="#7a7a7a", width=0.9)))

    # axis titles and caption
    annotations.append(dict(text="Communication Rounds", xref="paper", yref="paper",
                            x=(L + R) / 2 / W, y=1 - XLABEL_Y[row] / H,
                            xanchor="center", yanchor="middle", showarrow=False,
                            font=dict(family=FONT, size=13, color="#111111")))
    annotations.append(dict(text="Training Loss", xref="paper", yref="paper",
                            x=YLABEL_X[col] / W, y=1 - (T + B) / 2 / H, textangle=-90,
                            xanchor="center", yanchor="middle", showarrow=False,
                            font=dict(family=FONT, size=13, color="#111111")))
    annotations.append(dict(text=CAPTIONS[i], xref="paper", yref="paper",
                            x=CAPTION_X[col] / W, y=1 - CAPTION_Y[row] / H,
                            xanchor="center", yanchor="middle", showarrow=False,
                            font=dict(family="Liberation Serif", size=16, color="#000000")))

annotations.append(dict(text="10", xref="paper", yref="paper", x=921 / W, y=1 - 12 / H,
                        xanchor="center", yanchor="middle", showarrow=False,
                        font=dict(family="Liberation Serif", size=11, color="#000000")))

fig.update_layout(**layout)
fig.update_layout(width=W, height=H, autosize=False,
                  margin=dict(l=0, r=0, t=0, b=0),
                  paper_bgcolor="white", plot_bgcolor="white",
                  font=dict(family=FONT),
                  shapes=shapes, annotations=annotations)

fig.write_html("out.html")
